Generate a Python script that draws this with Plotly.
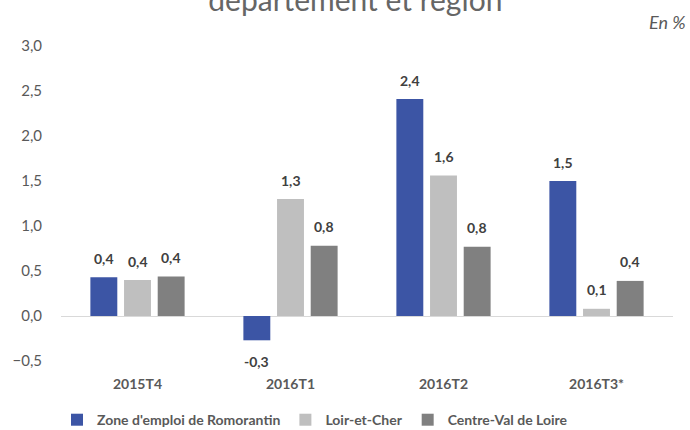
import plotly.graph_objects as go

categories = ["2015T4", "2016T1", "2016T2", "2016T3*"]
series_names = ["Zone d'emploi de Romorantin", "Loir-et-Cher", "Centre-Val de Loire"]
zone = [0.43, -0.27, 2.41, 1.50]
dept = [0.40, 1.30, 1.56, 0.08]
region = [0.44, 0.78, 0.77, 0.39]
colors = ["#3C55A5", "#BFBFBF", "#808080"]
values = [zone, dept, region]

x_idx = list(range(len(categories)))
bargap = 0.34
slot = (1 - bargap) / 3

fig = go.Figure()
for name, vals, col in zip(series_names, values, colors):
    fig.add_trace(go.Bar(x=x_idx, y=vals, name=name, marker_color=col,
                         marker_line_width=0))

annotations = []
for j, vals in enumerate(values):
    for i, v in enumerate(vals):
        txt = f"{v:.1f}".replace(".", ",")
        annotations.append(dict(
            x=i + (j - 1) * slot, y=v, xref="x", yref="y",
            text=txt, showarrow=False,
            yshift=19 if v >= 0 else -21,
            font=dict(size=14, color="#404040", family="Lato", weight="bold"),
        ))
annotations.append(dict(x=1.0, y=1.075, xref="paper", yref="paper",
                        text="<i>En %</i>", showarrow=False, xanchor="right",
                        yanchor="middle", xshift=15,
                        font=dict(size=18, color="#595959", family="Lato")))

fig.update_layout(
    width=690, height=430,
    margin=dict(l=56, r=17, t=46, b=69),
    paper_bgcolor="white", plot_bgcolor="white",
    separators=",.",
    barmode="group", bargap=bargap, bargroupgap=0.2,
    title=dict(text="département et région", x=0.515, xanchor="center",
               y=1.0, yanchor="middle", yref="container",
               font=dict(size=30, color="#666666", family="Lato")),
    font=dict(family="Lato", color="#595959"),
    xaxis=dict(tickvals=x_idx, ticktext=categories,
               range=[-0.5, 3.5], showgrid=False, zeroline=False, showline=False,
               ticks="", ticklabelstandoff=13,
               tickfont=dict(size=14, color="#595959", weight="bold")),
    yaxis=dict(range=[-0.5, 3.0], dtick=0.5, tickformat=".1f", showgrid=False,
               zeroline=True, zerolinecolor="#D9D9D9", zerolinewidth=1.3,
               showline=False, ticks="", ticklabelstandoff=18,
               tickfont=dict(size=15, color="#595959")),
    legend=dict(orientation="h", x=0.415, xanchor="center",
                yref="container", y=0.023, yanchor="middle",
                font=dict(size=14, color="#595959", weight="bold"),
                itemwidth=30, traceorder="normal"),
    annotations=annotations,
    showlegend=True,
)

fig.write_html("out.html", config={"displayModeBar": False},
               post_script="document.body.style.margin='0';document.body.style.overflow='hidden';")
